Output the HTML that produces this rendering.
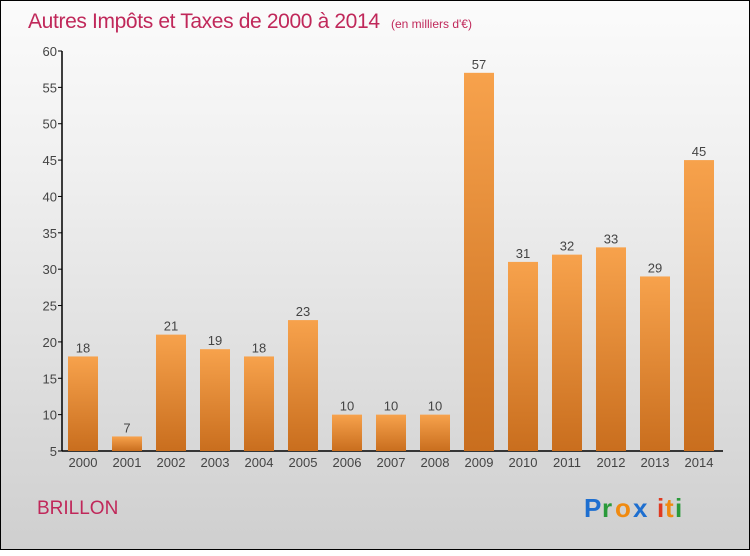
<!DOCTYPE html>
<html><head><meta charset="utf-8"><style>
html,body{margin:0;padding:0}
body{width:750px;height:550px;overflow:hidden;font-family:"Liberation Sans",sans-serif}
#wrap{position:absolute;left:0;top:0;width:748px;height:548px;border:1px solid #000;background:linear-gradient(#fbfbfb,#f0f0f0 30%,#cfcfcf)}
</style></head><body>
<div id="wrap">
<svg width="750" height="550" font-family="Liberation Sans,sans-serif">
<defs><linearGradient id="bg" x1="0" y1="0" x2="0" y2="1"><stop offset="0" stop-color="#f7a24c"/><stop offset="1" stop-color="#c96e1e"/></linearGradient></defs>
<text x="27" y="27" font-size="21" fill="#c0285a" textLength="352">Autres Impôts et Taxes de 2000 à 2014</text>
<text x="390" y="27" font-size="12" fill="#c0285a">(en milliers d'€)</text>
<text x="36" y="513" font-size="19" fill="#c0285a">BRILLON</text>
<g id="axes"></g><g id="bars"></g>
<g font-size="26" font-weight="bold">
<text x="583" y="516" fill="#1e6fd0">P</text><text x="601" y="516" fill="#2a9a3a">r</text><text x="614" y="516" fill="#f08a10">o</text><text x="632" y="516" fill="#1e6fd0">x</text><text x="656" y="516" fill="#e03a20">i</text><text x="664" y="516" fill="#f08a10">t</text><text x="674" y="516" fill="#2a9a3a">i</text>
</g>
</svg></div>
<script>
const years=["2000","2001","2002","2003","2004","2005","2006","2007","2008","2009","2010","2011","2012","2013","2014"];
const values=[18,7,21,19,18,23,10,10,10,57,31,32,33,29,45];
const yTicks=[5,10,15,20,25,30,35,40,45,50,55,60];
const NS="http://www.w3.org/2000/svg";
const y=v=>450-(v-5)*400/55;
const x=i=>82+i*44;
function mk(t,a,p,txt){const e=document.createElementNS(NS,t);for(const k in a)e.setAttribute(k,a[k]);if(txt!=null)e.textContent=txt;p.appendChild(e);return e;}
const ax=document.getElementById('axes'),bs=document.getElementById('bars');
let l=mk('line',{x1:61,y1:50,x2:61,y2:450,stroke:'#000','stroke-width':1.5},ax);

l=mk('line',{x1:61,y1:450,x2:722,y2:450,stroke:'#000','stroke-width':1.5},ax);

yTicks.forEach(v=>{
 mk('line',{x1:57,y1:y(v),x2:61,y2:y(v),stroke:'#000'},ax);
 const t=mk('text',{x:56,y:y(v)+5,'font-size':13,fill:'#444','text-anchor':'end'},ax,String(v));
 
});
years.forEach((yr,i)=>{
 const r=mk('rect',{x:x(i)-15,y:y(values[i]),width:30,height:450-y(values[i]),fill:'url(#bg)'},bs);
 
 const v=mk('text',{x:x(i),y:y(values[i])-4,'font-size':13,fill:'#444','text-anchor':'middle'},bs,String(values[i]));
 
 const t=mk('text',{x:x(i),y:466,'font-size':13,fill:'#444','text-anchor':'middle'},bs,yr);
 
});
</script>
</body></html>
